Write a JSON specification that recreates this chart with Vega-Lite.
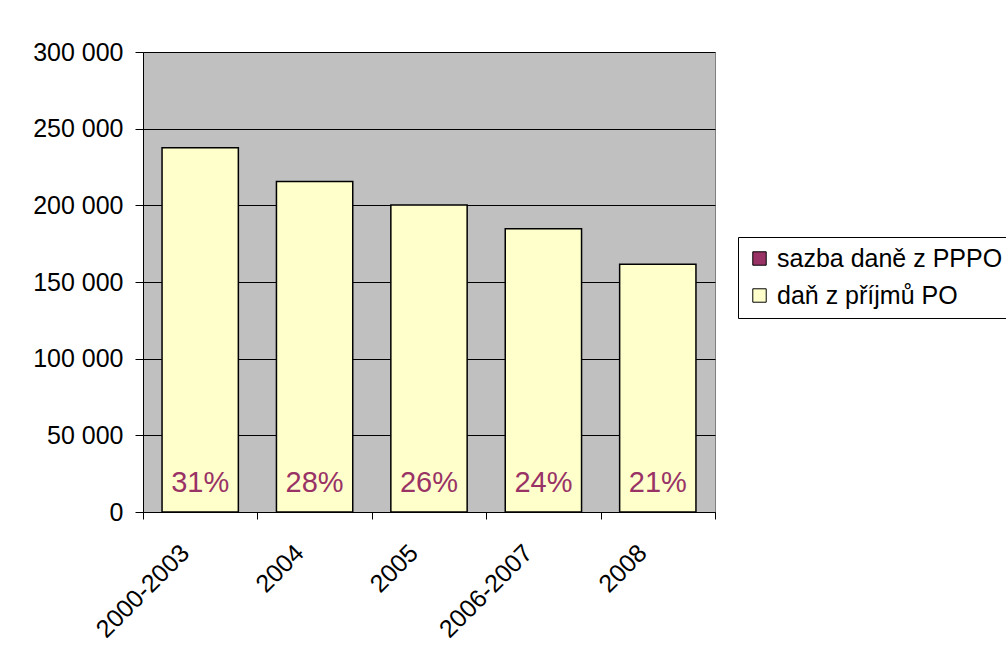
{
  "$schema": "https://vega.github.io/schema/vega-lite/v6.json",
  "width": 572,
  "height": 460,
  "autosize": {"type": "none"},
  "padding": {"left": 143, "top": 52, "right": 291, "bottom": 145},
  "background": "white",
  "data": {
    "values": [
      {"period": "2000-2003", "value": 237600, "rate": "31%", "series": "daň z příjmů PO"},
      {"period": "2004", "value": 215600, "rate": "28%", "series": "daň z příjmů PO"},
      {"period": "2005", "value": 200200, "rate": "26%", "series": "daň z příjmů PO"},
      {"period": "2006-2007", "value": 184800, "rate": "24%", "series": "daň z příjmů PO"},
      {"period": "2008", "value": 161500, "rate": "21%", "series": "daň z příjmů PO"}
    ]
  },
  "config": {
    "font": "Liberation Sans",
    "view": {"fill": "#C0C0C0", "stroke": "#808080", "strokeWidth": 1}
  },
  "layer": [
    {
      "mark": {"type": "bar", "stroke": "black", "strokeWidth": 1.5, "opacity": 1, "width": {"band": 0.667}},
      "encoding": {
        "x": {
          "field": "period", "type": "nominal", "sort": null,
          "scale": {"paddingInner": 0, "paddingOuter": 0},
          "axis": {
            "title": null, "grid": false, "tickBand": "extent", "ticks": true,
            "tickSize": 7, "tickColor": "black", "domainColor": "black",
            "labelAngle": -45, "labelAlign": "right", "labelBaseline": "top",
            "labelFontSize": 25, "labelColor": "black", "labelPadding": 21, "labelOffset": -24
          }
        },
        "y": {
          "field": "value", "type": "quantitative",
          "scale": {"domain": [0, 300000], "nice": false},
          "axis": {
            "title": null, "values": [0, 50000, 100000, 150000, 200000, 250000, 300000],
            "grid": true, "gridColor": "black", "gridOpacity": 1, "gridWidth": 1,
            "tickSize": 8, "tickColor": "black", "domainColor": "black",
            "labelFontSize": 25, "labelColor": "black", "labelPadding": 12,
            "labelExpr": "replace(format(datum.value, ','), /,/g, ' ')"
          }
        },
        "color": {
          "field": "series", "type": "nominal",
          "scale": {"domain": ["sazba daně z PPPO", "daň z příjmů PO"], "range": ["#993366", "#FFFFCC"]},
          "legend": {
            "orient": "none", "legendX": 595, "legendY": 185, "title": null,
            "strokeColor": "black", "fillColor": "white", "padding": 9,
            "symbolType": "square", "symbolSize": 180, "symbolStrokeColor": "black",
            "symbolStrokeWidth": 1, "symbolOpacity": 1, "labelLimit": 500,
            "labelFontSize": 25, "labelColor": "black", "labelOffset": 5, "rowPadding": 11
          }
        }
      }
    },
    {
      "mark": {"type": "text", "color": "#993366", "fontSize": 29, "baseline": "alphabetic", "dy": -20},
      "encoding": {
        "x": {"field": "period", "type": "nominal", "sort": null},
        "y": {"datum": 0, "type": "quantitative"},
        "text": {"field": "rate"}
      }
    }
  ]
}
